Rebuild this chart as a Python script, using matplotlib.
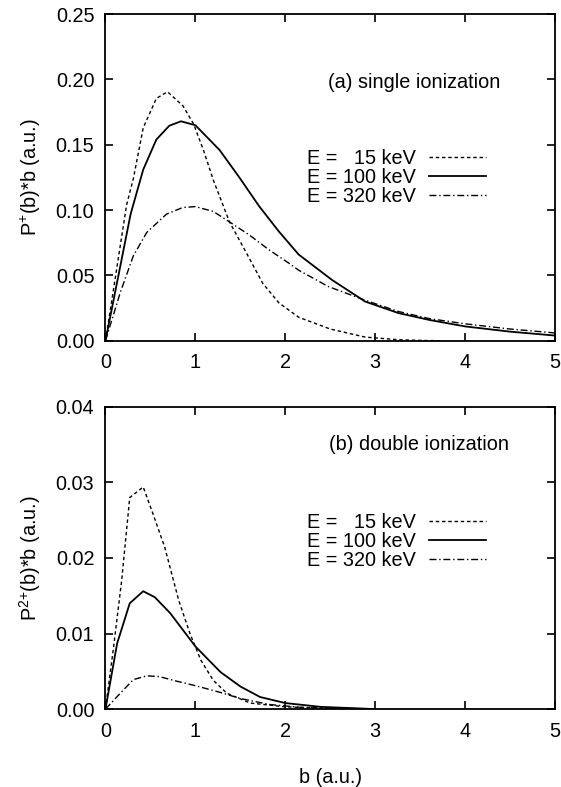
import matplotlib
matplotlib.use("Agg")
import matplotlib.pyplot as plt
from matplotlib.ticker import FormatStrFormatter

plt.rcParams['font.family'] = ['Liberation Sans', 'DejaVu Sans']
plt.rcParams['mathtext.default'] = 'regular'

# ---- data ----
labels = ["E =   15 keV", "E = 100 keV", "E = 320 keV"]

# (a) single ionization
b1_15 = [0.0, 0.10, 0.235, 0.31, 0.42, 0.566, 0.69, 0.86, 0.98, 1.09, 1.20, 1.38, 1.57,
         1.75, 1.93, 2.15, 2.50, 2.89, 3.26, 3.55, 3.75]
p1_15 = [0.0, 0.044, 0.104, 0.124, 0.163, 0.1855, 0.1906, 0.180, 0.166, 0.146, 0.123, 0.091,
         0.067, 0.044, 0.029, 0.018, 0.009, 0.0028, 0.0008, 0.0002, 0.0]
b1_100 = [0.0, 0.13, 0.28, 0.42, 0.566, 0.71, 0.84, 1.0, 1.27, 1.49, 1.71, 1.93, 2.15,
          2.52, 2.89, 3.26, 3.6, 4.0, 4.5, 5.0]
p1_100 = [0.0, 0.045, 0.097, 0.131, 0.154, 0.1646, 0.168, 0.165, 0.146, 0.125, 0.103, 0.0836,
          0.066, 0.0466, 0.030, 0.0212, 0.016, 0.011, 0.007, 0.004]
b1_320 = [0.0, 0.165, 0.31, 0.46, 0.68, 0.86, 1.0, 1.2, 1.38, 1.60, 1.82, 2.04, 2.15,
          2.48, 2.89, 3.26, 3.6, 4.0, 4.5, 5.0]
p1_320 = [0.0, 0.037, 0.065, 0.083, 0.097, 0.102, 0.1027, 0.099, 0.091, 0.081, 0.0696, 0.0594,
          0.054, 0.0415, 0.031, 0.0224, 0.017, 0.013, 0.009, 0.006]

# (b) double ionization
b2_15 = [0.0, 0.09, 0.18, 0.27, 0.42, 0.53, 0.66, 0.815, 0.94, 1.06, 1.20, 1.35, 1.61,
         2.0, 2.5, 3.0]
p2_15 = [0.0, 0.0082, 0.017, 0.028, 0.0294, 0.0258, 0.0214, 0.0144, 0.0100, 0.0065, 0.0038,
         0.0021, 0.0008, 0.0003, 0.0001, 0.0]
b2_100 = [0.0, 0.13, 0.27, 0.42, 0.55, 0.72, 0.86, 1.0, 1.28, 1.50, 1.72, 2.0, 2.39, 3.0]
p2_100 = [0.0, 0.0087, 0.014, 0.0156, 0.0148, 0.0127, 0.0105, 0.0083, 0.0049, 0.0030, 0.0016,
          0.0008, 0.0003, 0.0]
b2_320 = [0.0, 0.165, 0.31, 0.46, 0.60, 0.79, 1.0, 1.28, 1.50, 1.83, 2.2, 3.0]
p2_320 = [0.0, 0.0021, 0.0039, 0.0044, 0.0043, 0.0037, 0.0031, 0.0022, 0.0014, 0.0006,
          0.0002, 0.0]

styles = [dict(ls=(0, (2.5, 2)), lw=1.0),
          dict(ls='-', lw=1.3),
          dict(ls=(0, (5, 2, 1, 2)), lw=1.0)]

FS = 14.3

fig = plt.figure(figsize=(5.61, 7.87), dpi=100)
ax1 = fig.add_axes([0.188, 0.567, 0.801, 0.415])
ax2 = fig.add_axes([0.188, 0.099, 0.801, 0.384])

panels = [
    (ax1, [(b1_15, p1_15), (b1_100, p1_100), (b1_320, p1_320)], 0.25, 0.05,
     "P$^{+}$(b)*b (a.u.)", "(a) single ionization", 0.688, 0.792, 0.50),
    (ax2, [(b2_15, p2_15), (b2_100, p2_100), (b2_320, p2_320)], 0.04, 0.01,
     "P$^{2{+}}$(b)*b (a.u.)", "(b) double ionization", 0.697, 0.874, 0.556),
]

for ax, series, ymax, ystep, ylab, note, note_x, note_y, leg_y in panels:
    for (bx, py), st, lab in zip(series, styles, labels):
        ax.plot(bx, py, color='black', label=lab, **st)
    ax.set_xlim(0, 5)
    ax.set_ylim(0, ymax)
    ax.set_xticks(range(6))
    ax.set_yticks([i * ystep for i in range(6) if i * ystep <= ymax + 1e-9])
    ax.yaxis.set_major_formatter(FormatStrFormatter('%.2f'))
    ax.tick_params(direction='in', length=6, width=1.2, top=True, right=True,
                   labelsize=FS)
    ax.tick_params(axis='y', pad=8)
    ax.tick_params(axis='x', pad=9)
    for sp in ax.spines.values():
        sp.set_linewidth(1.3)
    ax.set_ylabel(ylab, fontsize=FS, labelpad=9)
    ax.text(note_x, note_y, note, transform=ax.transAxes, ha='center', va='center',
            fontsize=FS)
    ax.legend(loc='center', bbox_to_anchor=(0.648, leg_y), frameon=False,
              markerfirst=False, fontsize=FS, handlelength=2.9, handletextpad=0.65,
              labelspacing=0.0, borderpad=0)

ax2.set_xlabel("b (a.u.)", fontsize=FS, labelpad=20)

plt.savefig("out.png", dpi=100)
